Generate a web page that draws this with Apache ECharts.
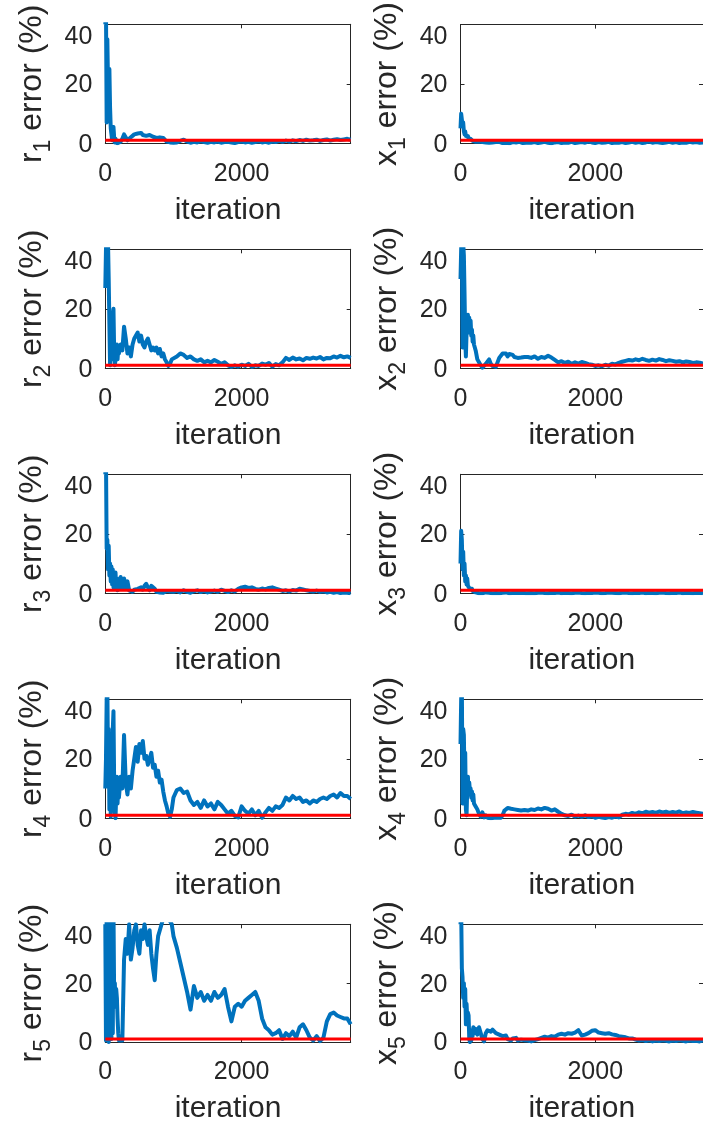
<!DOCTYPE html>
<html>
<head>
<meta charset="utf-8">
<script src="https://cdn.jsdelivr.net/npm/echarts@6/dist/echarts.min.js"></script>
<style>
  html, body { margin: 0; padding: 0; background: #fff; }
  #chart { width: 703px; height: 1125px; }
</style>
</head>
<body>
<div id="chart"></div>
<script>
// Iteration sample points (dense at the start, coarser later)
const iters = [
  0,10,20,30,40,50,60,70,80,90,100,110,120,130,140,150,160,170,180,190,200,
  225,250,275,300,325,350,375,400,425,450,475,500,525,550,575,600,625,650,675,700,725,750,775,800,825,850,875,900,925,950,975,1000,
  1050,1100,1150,1200,1250,1300,1350,1400,1450,1500,1550,1600,1650,1700,1750,1800,1850,1900,1950,2000,
  2050,2100,2150,2200,2250,2300,2350,2400,2450,2500,2550,2600,2650,2700,2750,2800,2850,2900,2950,3000,
  3050,3100,3150,3200,3250,3300,3350,3400,3450,3500,3550,3600
];

// Parameter estimation error (%) per iteration
const r1Err = [40,45,7,35,20,10,25,12,5,3,1,4,5.5,2,0.3,1.5,0.2,1,0,0.5,0.3,
  0.5,1.5,3,2.8,1,0.5,2,2.5,3,2.6,3.3,3,3.5,2.8,3.2,2.5,2,2.8,3,2.2,2.5,1.8,2.2,2,1.5,1.8,1.2,0.6,0.8,0.3,0.5,0.2,
  0.3,0.8,1.2,0.6,0.2,0.5,0.3,0.7,0.4,0.2, 0.5,0.3,0.6,0.2,0.4,0.5,0.3,0.1,0.4,0.6,
  0.3,0.5,0.2,0.4,0.7,0.3,0.5,0.2,0.6,0.4, 0.8,0.5,0.9,0.6,1,0.7,1.1,0.8,1.2,0.9,
  1,1.2,0.8,1.1,1.3,0.9,1.2,1.4,1.1,1.3, 1.5,1.2];
const x1Err = [5,10,8,6,7,4,3,4,2.5,3,2,2.5,1.5,2,1.2,1.5,1,1.3,0.8,1,0.6,
  0.5,0.3,0.6,0.2,0.4,0.1,0.3,0.5,0.2,0,0.3,0.1,0.4,0.2,0.5,0.3,0.1,0.4,0.2,0.3,0,0.2,0.4,0.1,0.3,0.2,0.5,0.3,0.1,0.4,0.2,0.3,
  0.2,0.4,0.1,0.3,0.5,0.2,0,0.3,0.4,0.1, 0.3,0.2,0.5,0.1,0.3,0.4,0.2,0.6,0.3,0.1,
  0.4,0.2,0.3,0.5,0.1,0.3,0.2,0.4,0.1,0.3, 0.5,0.2,0.4,0.1,0.3,0.6,0.2,0.4,0.3,0.1,
  0.3,0.5,0.2,0.4,0.1,0.3,0.2,0.5,0.3,0.4, 0.2,0.3];
const r2Err = [27,40,45,35,42,30,15,1,8,3,12,18,20,6,1,0.5,5,8,3,7,5,
  8,6,14,10,5,7,4,8,10,11,12,9,11,8,7,9,10,8,6,7,6,7,5,6.5,4,5,3,2,0.8,1.5,3,2.5,
  4,5,4.5,3.5,4,3,2.5,3,2,2.5, 2,2.8,2.2,1.5,2,1,0.5,1,0.6,1.2,
  0.8,1.5,0.5,1,0.8,1.6,1.2,1.8,0.6,1.4, 1,2,3.5,2.8,3.6,3,3.3,2.7,3.5,3.2,
  3.6,3.3,3.8,3,3.5,3.4,4,3.6,4.2,3.7, 4,3.5];
const x2Err = [30,40,45,7,42,38,25,10,4,12,15,18,14,17,12,16,11,13,9,11,8,
  6,3,2,1,0.2,0.5,1.5,1,3,1.5,0.8,1,0.5,2,3.5,4,5,4.5,5,4,4.8,4.2,4.5,3.8,4.2,3.5,4,3.6,3.2,3.8,3.4,3.8,
  3.5,4,3.2,3.8,3.5,4.2,3.6,2.8,2,2.4, 1.8,2.2,1.5,2,1.6,2.1,1.8,1.4,1.2,0.8,
  1,0.7,1.2,0.9,1.5,1.3,1.8,2.2,2.5,2.8, 2.6,3,2.7,3.2,2.8,2.5,2.9,2.6,3.1,2.8,
  2.4,2.7,2.5,2.2,2.4,2,2.3,2.1,1.8,2, 1.9,1.6];
const r3Err = [40,45,15,18,8,16,6,10,4,9,3,8,2,6,1.5,7,2,5,1,4,2,
  5.5,1.5,5,2,4,1,1.5,0.5,1.2,0.8,1.5,1,2,1.2,2.5,3.2,2,1,2.5,2.8,1.5,0.5,0.8,0.3,0.6,0.2,0.5,0.8,0.3,0.6,0.2,0.5,
  0.8,0.3,1,0.5,0.2,0.7,1,0.4,0.8,0.3, 0.6,0.9,0.5,1.2,0.8,0.4,1,0.6,1.5,2,
  2.2,1.8,2,1.5,1.2,1.6,1.3,1.8,2,1.6, 1.2,0.8,1,0.6,1.1,0.9,1.5,1.3,1,0.8,
  0.6,0.9,0.5,0.7,0.3,0.5,0.2,0.4,0.1,0.3, 0.2,0];
const x3Err = [10,21,18,8,14,6,10,4,6,3,5,2.5,3,2,1.5,2,1.2,1.5,0.8,1,0.5,
  0.3,0.1,0,0.2,0,0.1,0.3,0,0.2,0.1,0,0.2,0.1,0.3,0,0.1,0.2,0,0.3,0.1,0,0.2,0.1,0,0.2,0.3,0.1,0,0.2,0.1,0,0.2,
  0.1,0,0.2,0.3,0.1,0,0.2,0.1,0.3,0, 0.2,0.1,0,0.2,0.3,0.1,0,0.2,0.1,0.3,
  0.2,0,0.1,0.3,0.2,0.1,0,0.2,0.3,0.1, 0,0.2,0.1,0.3,0,0.2,0.1,0,0.2,0.3,
  0.1,0,0.2,0.1,0.3,0,0.2,0.1,0,0.2, 0.1,0];
const r4Err = [10,20,40,45,18,30,3,28,0.5,15,10,30,36,12,2,0,8,14,5,12,7,
  14,10,28,12,8,14,10,16,20,24,19,25,22,26,20,21,18,20,22,17,18,14,16,12,13,9,6,4,1.5,0.5,3,7,
  9.5,10,8.5,9,6,4.5,5.5,3.5,6,4, 5,3,5.5,4.5,3,1.5,2.5,0.8,0.3,4,
  2.5,1.5,3,1,2.5,0.2,2,3.5,2.5,4, 3.5,4.5,7,6,7.5,6.5,7,5.5,6,5,
  6,5.5,6.5,7,6.5,7.5,8,7,8.5,7.5, 7.5,6.5];
const x4Err = [25,40,45,5,30,28,12,22,3,1,10,14,8,12,9,10,7,9,6,8,5,
  4,3,1.5,0.5,2,0.3,1,0.2,0.8,0,0.5,0.2,0.8,0.3,0.5,0.2,1,2.5,3,3.5,4,3.2,3.8,3,2.5,2.8,2.2,2.6,2.4,2.8,2.2,2.6,
  3,2.8,3.3,3,3.5,3.2,2.6,3,2.2,1.5, 1,0.8,1.2,0.6,0.9,0.5,1,0.4,0.7,0.2,
  0.5,0.3,0.1,0.4,0.2,0.6,0.3,1.2,1.5,1.3, 1.8,1.5,2,1.7,2.2,1.9,2.1,1.8,2.3,2,
  2.2,1.8,2.1,1.9,2.3,1.7,2,1.8,2.1,1.9, 1.7,1.5];
const r5Err = [40,0.5,45,2,45,0,42,5,45,1,40,3,45,15,20,12,18,15,8,3,0.5,
  0,0.5,28,35,30,40,28,32,38,40,33,30,38,35,40,36,33,38,30,25,21,30,36,38,40,42,45,44,42,41,40,36,
  32,27,22,17,11,19,15,17,14,16, 14,17,15,16,18,12,7,12,13,12,
  14,15,16,17,14,8,5,4,2.5,3, 4,1,3,2,3.5,1.5,5,6,4,1.5,
  0.5,2,0.3,1.5,7,9.5,10,9,8.5,8, 8,6];
const x5Err = [40,45,25,22,15,20,12,18,6,13,8,10,9,1,0,3,0.5,4,2,5,3,
  4.5,2.5,5,3,1,0.2,3,4,4.5,3.5,4.2,3.8,3,3.5,2.5,3,2,1.5,2.2,1,1.5,0.5,1.2,0.8,1.4,0.5,0.3,0.8,0.2,0.6,0.3,0.5,
  0.2,0.6,1,1.4,1.8,1.5,2,1.8,2.5,2.8, 2.5,3,2.8,3.2,4,2.2,2.5,3,3.8,4,
  3.2,3,2.8,3,2.6,2.4,2,1.8,1.6,1.2, 1.2,0.8,0.5,0.7,0.3,0.6,0.2,0.5,0.3,0.6,
  0.4,0.2,0.5,0.3,0.6,0.4,0.2,0.5,0.3,0.4, 0.2,0.5];

// Tolerance line (%) and axis ticks
const tolerance = 1;
const iterRange = [0, 3600];
const errRange = [0, 40];
const xTicks = [0, 2000];
const yTicks = [0, 20, 40];

// Panels in reading order: left column r_k, right column x_k
const panels = [
  { sym: 'r', k: '1', data: r1Err }, { sym: 'x', k: '1', data: x1Err },
  { sym: 'r', k: '2', data: r2Err }, { sym: 'x', k: '2', data: x2Err },
  { sym: 'r', k: '3', data: r3Err }, { sym: 'x', k: '3', data: x3Err },
  { sym: 'r', k: '4', data: r4Err }, { sym: 'x', k: '4', data: x4Err },
  { sym: 'r', k: '5', data: r5Err }, { sym: 'x', k: '5', data: x5Err }
];

const FONT = '"Liberation Sans", Arial, Helvetica, sans-serif';
const INK = '#262626';
const BLUE = '#0072BD';
const RED = '#FF0000';
const plain = v => String(v);
// the top y label sits a little below its tick
const yLabel = v => (v === errRange[1] ? '{top|' + v + '}' : '{n|' + v + '}');
const tickFont = { fontSize: 25, color: INK, fontFamily: FONT };

const grid = [], xAxis = [], yAxis = [], series = [];

panels.forEach((p, i) => {
  const row = Math.floor(i / 2), col = i % 2;
  grid.push({
    left: col === 0 ? 105.3 : 460.5,
    top: 24.3 + row * 225,
    width: 245.4,
    height: 119,
    containLabel: false
  });
  const tickStyle = { show: true, inside: true, length: 4, lineStyle: { color: INK, width: 1 } };
  const lineStyle = { show: true, onZero: false, lineStyle: { color: INK, width: 1 } };
  // bottom and top x axes (box outline)
  xAxis.push({
    gridIndex: i, type: 'value', position: 'bottom',
    min: iterRange[0], max: iterRange[1],
    axisLine: lineStyle,
    axisTick: Object.assign({ customValues: xTicks }, tickStyle),
    axisLabel: Object.assign({ customValues: xTicks, formatter: plain, margin: 18 }, tickFont),
    splitLine: { show: false },
    name: 'iteration', nameLocation: 'middle', nameGap: 52,
    nameTextStyle: { fontSize: 30, color: INK, fontFamily: FONT }
  });
  xAxis.push({
    gridIndex: i, type: 'value', position: 'top',
    min: iterRange[0], max: iterRange[1],
    axisLine: lineStyle,
    axisTick: Object.assign({ customValues: xTicks }, tickStyle),
    axisLabel: { show: false },
    splitLine: { show: false }
  });
  // left and right y axes
  yAxis.push({
    gridIndex: i, type: 'value', position: 'left',
    min: errRange[0], max: errRange[1],
    axisLine: lineStyle,
    axisTick: Object.assign({ customValues: yTicks }, tickStyle),
    axisLabel: Object.assign({
      customValues: yTicks, formatter: yLabel, margin: 13,
      rich: {
        n: Object.assign({ padding: [3, 0, 0, 0] }, tickFont),
        top: Object.assign({ padding: [26, 0, 0, 0] }, tickFont)
      }
    }, tickFont),
    splitLine: { show: false },
    name: '{m|' + p.sym + '}{s|' + p.k + '}{m| error (%)}',
    nameLocation: 'middle', nameGap: 57, nameRotate: 90,
    nameTextStyle: {
      color: INK, fontFamily: FONT,
      rich: {
        m: { fontSize: 32, lineHeight: 32, verticalAlign: 'top', color: INK, fontFamily: FONT },
        s: { fontSize: 23, lineHeight: 24, verticalAlign: 'top', padding: [16, 0, 0, 0], color: INK, fontFamily: FONT }
      }
    }
  });
  yAxis.push({
    gridIndex: i, type: 'value', position: 'right',
    min: errRange[0], max: errRange[1],
    axisLine: lineStyle,
    axisTick: Object.assign({ customValues: yTicks }, tickStyle),
    axisLabel: { show: false },
    splitLine: { show: false }
  });

  series.push({
    type: 'line', xAxisIndex: 2 * i, yAxisIndex: 2 * i,
    data: iters.map((t, j) => [t, p.data[j]]),
    showSymbol: false, symbol: 'none', clip: true,
    lineStyle: { color: BLUE, width: 4, join: 'round' },
    z: 2
  });
  series.push({
    type: 'line', xAxisIndex: 2 * i, yAxisIndex: 2 * i,
    data: [[iterRange[0], tolerance], [iterRange[1], tolerance]],
    showSymbol: false, symbol: 'none',
    lineStyle: { color: RED, width: 3 },
    z: 3
  });
});

const chart = echarts.init(document.getElementById('chart'), null, { renderer: 'canvas' });
chart.setOption({
  animation: false,
  backgroundColor: '#ffffff',
  textStyle: { fontFamily: FONT },
  grid, xAxis, yAxis, series
});
</script>
</body>
</html>
